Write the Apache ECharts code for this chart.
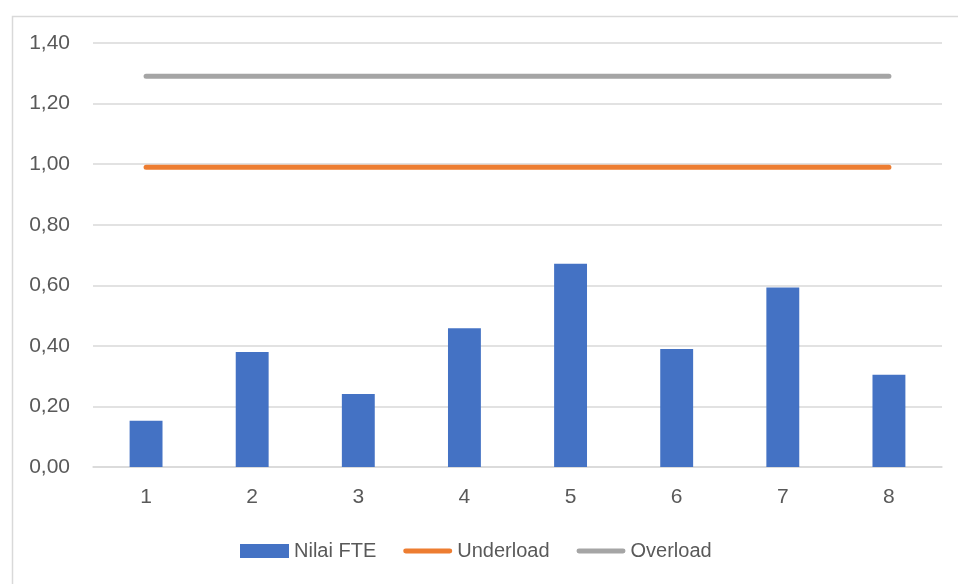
<!DOCTYPE html>
<html>
<head>
<meta charset="utf-8">
<script src="https://cdn.jsdelivr.net/npm/echarts@6/dist/echarts.min.js"></script>
<style>
  html, body { margin: 0; padding: 0; background: #fff; }
  #chart { width: 958px; height: 584px; }
</style>
</head>
<body>
<div id="chart"></div>
<script>
// Categories and values
const categories = ['1', '2', '3', '4', '5', '6', '7', '8'];
const nilaiFTE = [0.153, 0.380, 0.241, 0.458, 0.671, 0.390, 0.593, 0.305];
const underload = [0.99, 0.99, 0.99, 0.99, 0.99, 0.99, 0.99, 0.99];
const overload = [1.29, 1.29, 1.29, 1.29, 1.29, 1.29, 1.29, 1.29];
const seriesNames = ['Nilai FTE', 'Underload', 'Overload'];

const FONT = '"Liberation Sans", Arial, sans-serif';
const TEXT = '#595959';
const GRID = '#d9d9d9';
const LINE_ICON = 'path://M2.5,0 H47.5 A2.5,2.5 0 0 1 47.5,5 H2.5 A2.5,2.5 0 0 1 2.5,0 Z';

const chart = echarts.init(document.getElementById('chart'), null, { renderer: 'canvas' });

chart.setOption({
  backgroundColor: '#ffffff',
  animation: false,
  textStyle: { fontFamily: FONT },
  graphic: [{
    type: 'rect',
    left: 10, top: 14,
    shape: { width: 1000, height: 1000 },
    style: { fill: 'none', stroke: GRID, lineWidth: 1.5 },
    silent: true
  }],
  grid: { left: 93, right: 16, top: 43, bottom: 117, containLabel: false },
  legend: {
    left: 240, top: 541,
    padding: 0,
    itemWidth: 49, itemHeight: 14, itemGap: 27,
    selectedMode: false,
    textStyle: { color: TEXT, fontSize: 20, fontFamily: FONT },
    data: [
      { name: seriesNames[0], icon: 'rect' },
      { name: seriesNames[1], icon: LINE_ICON },
      { name: seriesNames[2], icon: LINE_ICON }
    ]
  },
  xAxis: {
    type: 'category',
    data: categories,
    axisLine: { lineStyle: { color: GRID, width: 1.5 } },
    axisTick: { show: false },
    axisLabel: { color: TEXT, fontSize: 21, margin: 20, fontFamily: FONT }
  },
  yAxis: {
    type: 'value',
    min: 0, max: 1.4, interval: 0.2,
    axisLine: { show: false },
    axisTick: { show: false },
    splitLine: { lineStyle: { color: GRID, width: 1.5 } },
    axisLabel: {
      color: TEXT, fontSize: 21, margin: 23, fontFamily: FONT,
      formatter: v => v.toFixed(2).replace('.', ',')
    }
  },
  series: [
    {
      name: seriesNames[0],
      type: 'bar',
      data: nilaiFTE,
      barWidth: '31%',
      itemStyle: { color: '#4472C4' }
    },
    {
      name: seriesNames[1],
      type: 'line',
      data: underload,
      symbol: 'none',
      itemStyle: { color: '#ED7D31' },
      lineStyle: { color: '#ED7D31', width: 5, cap: 'round' }
    },
    {
      name: seriesNames[2],
      type: 'line',
      data: overload,
      symbol: 'none',
      itemStyle: { color: '#A5A5A5' },
      lineStyle: { color: '#A5A5A5', width: 5, cap: 'round' }
    }
  ]
});
</script>
</body>
</html>
